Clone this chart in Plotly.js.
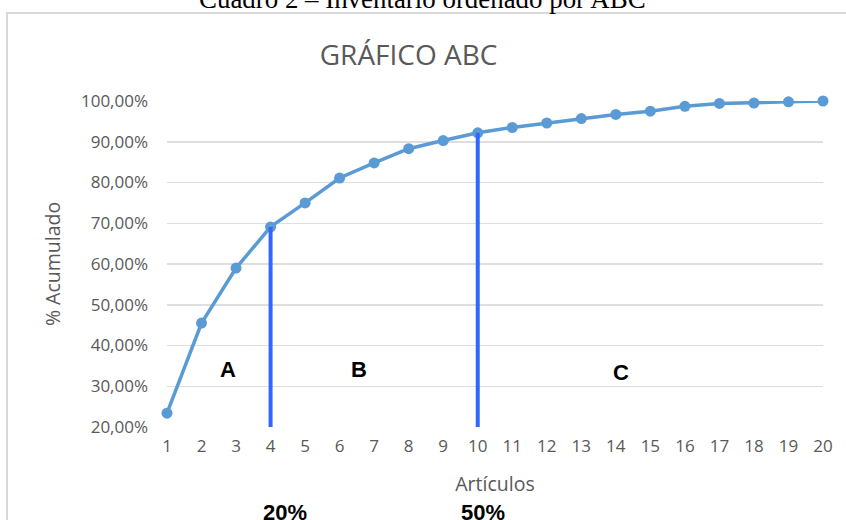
<!DOCTYPE html>
<html>
<head>
<meta charset="utf-8">
<script src="https://cdn.plot.ly/plotly-3.0.1.min.js"></script>
<style>
  html, body { margin: 0; padding: 0; background: #ffffff; overflow: hidden; width: 846px; height: 520px; }
  #frame { position: absolute; left: 6px; top: 12px; width: 900px; height: 600px; border: 2px solid #d9d9d9; box-sizing: border-box; }
  #chart { position: absolute; left: 0; top: -30px; width: 846px; height: 580px; }
</style>
</head>
<body>
<div id="frame"></div>
<div id="chart"></div>
<script>
// Data
const articulos = [1,2,3,4,5,6,7,8,9,10,11,12,13,14,15,16,17,18,19,20];
const acumulado = [0.234,0.455,0.590,0.691,0.750,0.811,0.848,0.883,0.903,0.922,
                   0.935,0.946,0.957,0.967,0.975,0.987,0.994,0.995,0.998,1.000];
const cortes = [4, 10];               // article positions of the A/B and B/C cuts
const zonas = ["A", "B", "C"];
const zonasX = [2.77, 6.57, 14.14];
const zonasY = [0.342, 0.342, 0.333];
const cortesTexto = ["20%", "50%"];
const cortesTextoX = [4.42, 10.15];
const yTicks = [0.2,0.3,0.4,0.5,0.6,0.7,0.8,0.9,1.0];

const traces = [{
  x: articulos, y: acumulado, type: 'scatter', mode: 'lines+markers',
  line: {color: '#5b9bd5', width: 3.5},
  marker: {color: '#5b9bd5', size: 11},
  cliponaxis: false,
  hoverinfo: 'x+y', showlegend: false
}];
cortes.forEach(c => {
  traces.push({
    x: [c, c], y: [yTicks[0], acumulado[articulos.indexOf(c)]],
    type: 'scatter', mode: 'lines',
    line: {color: '#3366ff', width: 4},
    cliponaxis: false,
    showlegend: false, hoverinfo: 'skip'
  });
});

const annotations = [];
zonas.forEach((z, i) => annotations.push({
  x: zonasX[i], y: zonasY[i], xref: 'x', yref: 'y', text: '<b>' + z + '</b>',
  xanchor: 'center', yanchor: 'middle',
  showarrow: false, font: {family: 'Liberation Sans, Arial, sans-serif', size: 22, color: '#000000'}
}));
cortesTexto.forEach((t, i) => annotations.push({
  x: cortesTextoX[i], y: -0.261, xref: 'x', yref: 'paper', text: '<b>' + t + '</b>',
  xanchor: 'center', yanchor: 'middle',
  showarrow: false, font: {family: 'Liberation Sans Narrow, Liberation Sans, Arial, sans-serif', size: 22, color: '#000000'}
}));
annotations.push({
  x: 0.389, y: 1.313, xref: 'paper', yref: 'paper',
  xanchor: 'center', yanchor: 'middle',
  text: 'Cuadro 2 – Inventario ordenado por ABC', showarrow: false,
  font: {family: 'Liberation Serif, Times New Roman, serif', size: 26.9, color: '#000000'}
});

const layout = {
  width: 846, height: 580,
  margin: {l: 167, r: 23, t: 131, b: 123, pad: 0},
  paper_bgcolor: 'rgba(0,0,0,0)', plot_bgcolor: 'rgba(0,0,0,0)',
  separators: ',.',
  title: {
    text: 'GRÁFICO ABC', x: 0.483, xanchor: 'center', y: 0.853, yanchor: 'middle',
    font: {family: 'Open Sans, sans-serif', size: 28, color: '#595959'}
  },
  xaxis: {
    range: [1, 20], tickvals: articulos, ticktext: articulos.map(String),
    showgrid: false, zeroline: false, showline: false, ticks: '',
    ticklabelstandoff: 7,
    tickfont: {family: 'Open Sans, sans-serif', size: 17, color: '#595959'},
    title: {text: 'Artículos', standoff: 21, font: {family: 'Open Sans, sans-serif', size: 19.5, color: '#595959'}},
    fixedrange: true
  },
  yaxis: {
    range: [0.2, 1.0], tickvals: yTicks, tickformat: '.2%',
    showgrid: true, gridcolor: '#dedede', gridwidth: 1.5,
    zeroline: false, showline: false, ticks: '',
    ticklabelstandoff: 18,
    tickfont: {family: 'Open Sans, sans-serif', size: 17, color: '#595959'},
    title: {text: '% Acumulado', standoff: 15, font: {family: 'Open Sans, sans-serif', size: 19.5, color: '#595959'}},
    fixedrange: true
  },
  annotations: annotations
};

Plotly.newPlot('chart', traces, layout, {displayModeBar: false, staticPlot: true});
</script>
</body>
</html>
